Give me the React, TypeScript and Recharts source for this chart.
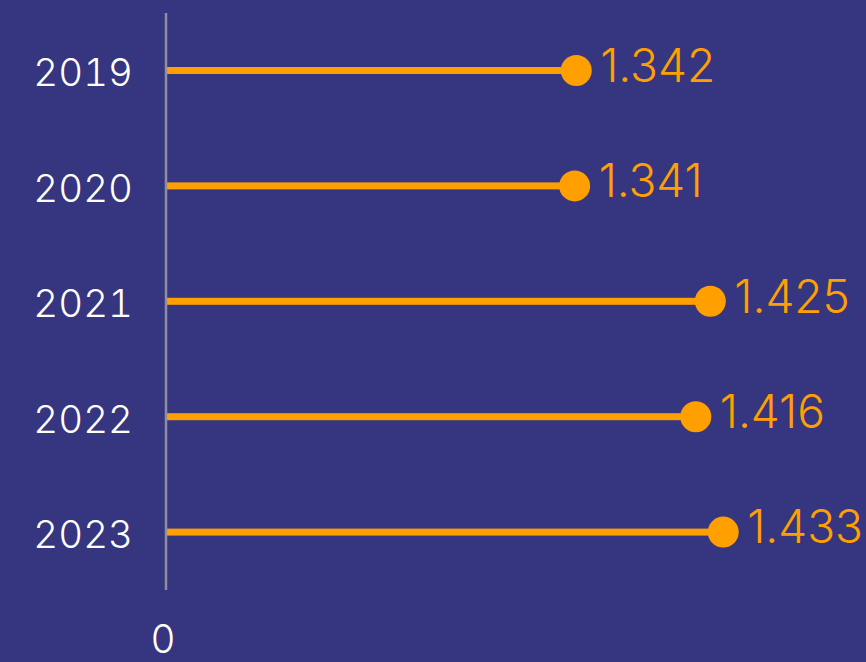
import { BarChart, Bar, XAxis, YAxis } from "recharts";

const years = ["2019", "2020", "2021", "2022", "2023"];
const values = [1.342, 1.341, 1.425, 1.416, 1.433];
// the value axis starts above zero, but its single tick is labelled "0"
const axisMin = 1.088;
const axisMax = 1.509;
const axisTicks = [axisMin];
const axisTickLabels = ["0"];

const BG = "#363580";
const ORANGE = "#FFA000";
const FONT = "Inter, 'Liberation Sans', Arial, sans-serif";

const data = years.map((year, i) => ({ year, value: values[i] }));

function Lollipop(props: any) {
  const { x, y, width, height, payload } = props;
  const cy = y + height / 2;
  const end = x + width;
  return (
    <g>
      <rect x={x + 1} y={cy - 3.5} width={Math.max(width - 1, 0)} height={7} fill={ORANGE} />
      <circle cx={end} cy={cy} r={15.5} fill={ORANGE} />
      <text
        x={end + 24}
        y={cy - 5}
        dy="0.355em"
        fill={ORANGE}
        fontSize={46}
        fontWeight={300}
        fontFamily={FONT}
      >
        {payload.value.toFixed(3)}
      </text>
    </g>
  );
}

export default function App() {
  return (
    <div style={{ position: "fixed", left: 0, top: 0, width: 866, height: 662, background: BG, fontFamily: FONT }}>
      <BarChart
        width={866}
        height={662}
        data={data}
        layout="vertical"
        margin={{ top: 13, right: 20, bottom: 0, left: 0 }}
        barSize={7}
      >
        <XAxis
          type="number"
          domain={[axisMin, axisMax]}
          ticks={axisTicks}
          tickFormatter={(_v, i) => axisTickLabels[i] ?? ""}
          axisLine={false}
          tickLine={false}
          height={72}
          tickMargin={29}
          tick={{ fill: "#ffffff", fontSize: 39, fontWeight: 300, dx: -3 }}
        />
        <YAxis
          type="category"
          dataKey="year"
          width={166}
          axisLine={{ stroke: "#8e8e9c", strokeWidth: 2.5 }}
          tickLine={false}
          tickMargin={27}
          tick={{ fill: "#ffffff", fontSize: 38.5, fontWeight: 300, dy: 2, style: { fontVariantNumeric: "tabular-nums" } }}
        />
        <Bar dataKey="value" shape={<Lollipop />} isAnimationActive={false} />
      </BarChart>
    </div>
  );
}
